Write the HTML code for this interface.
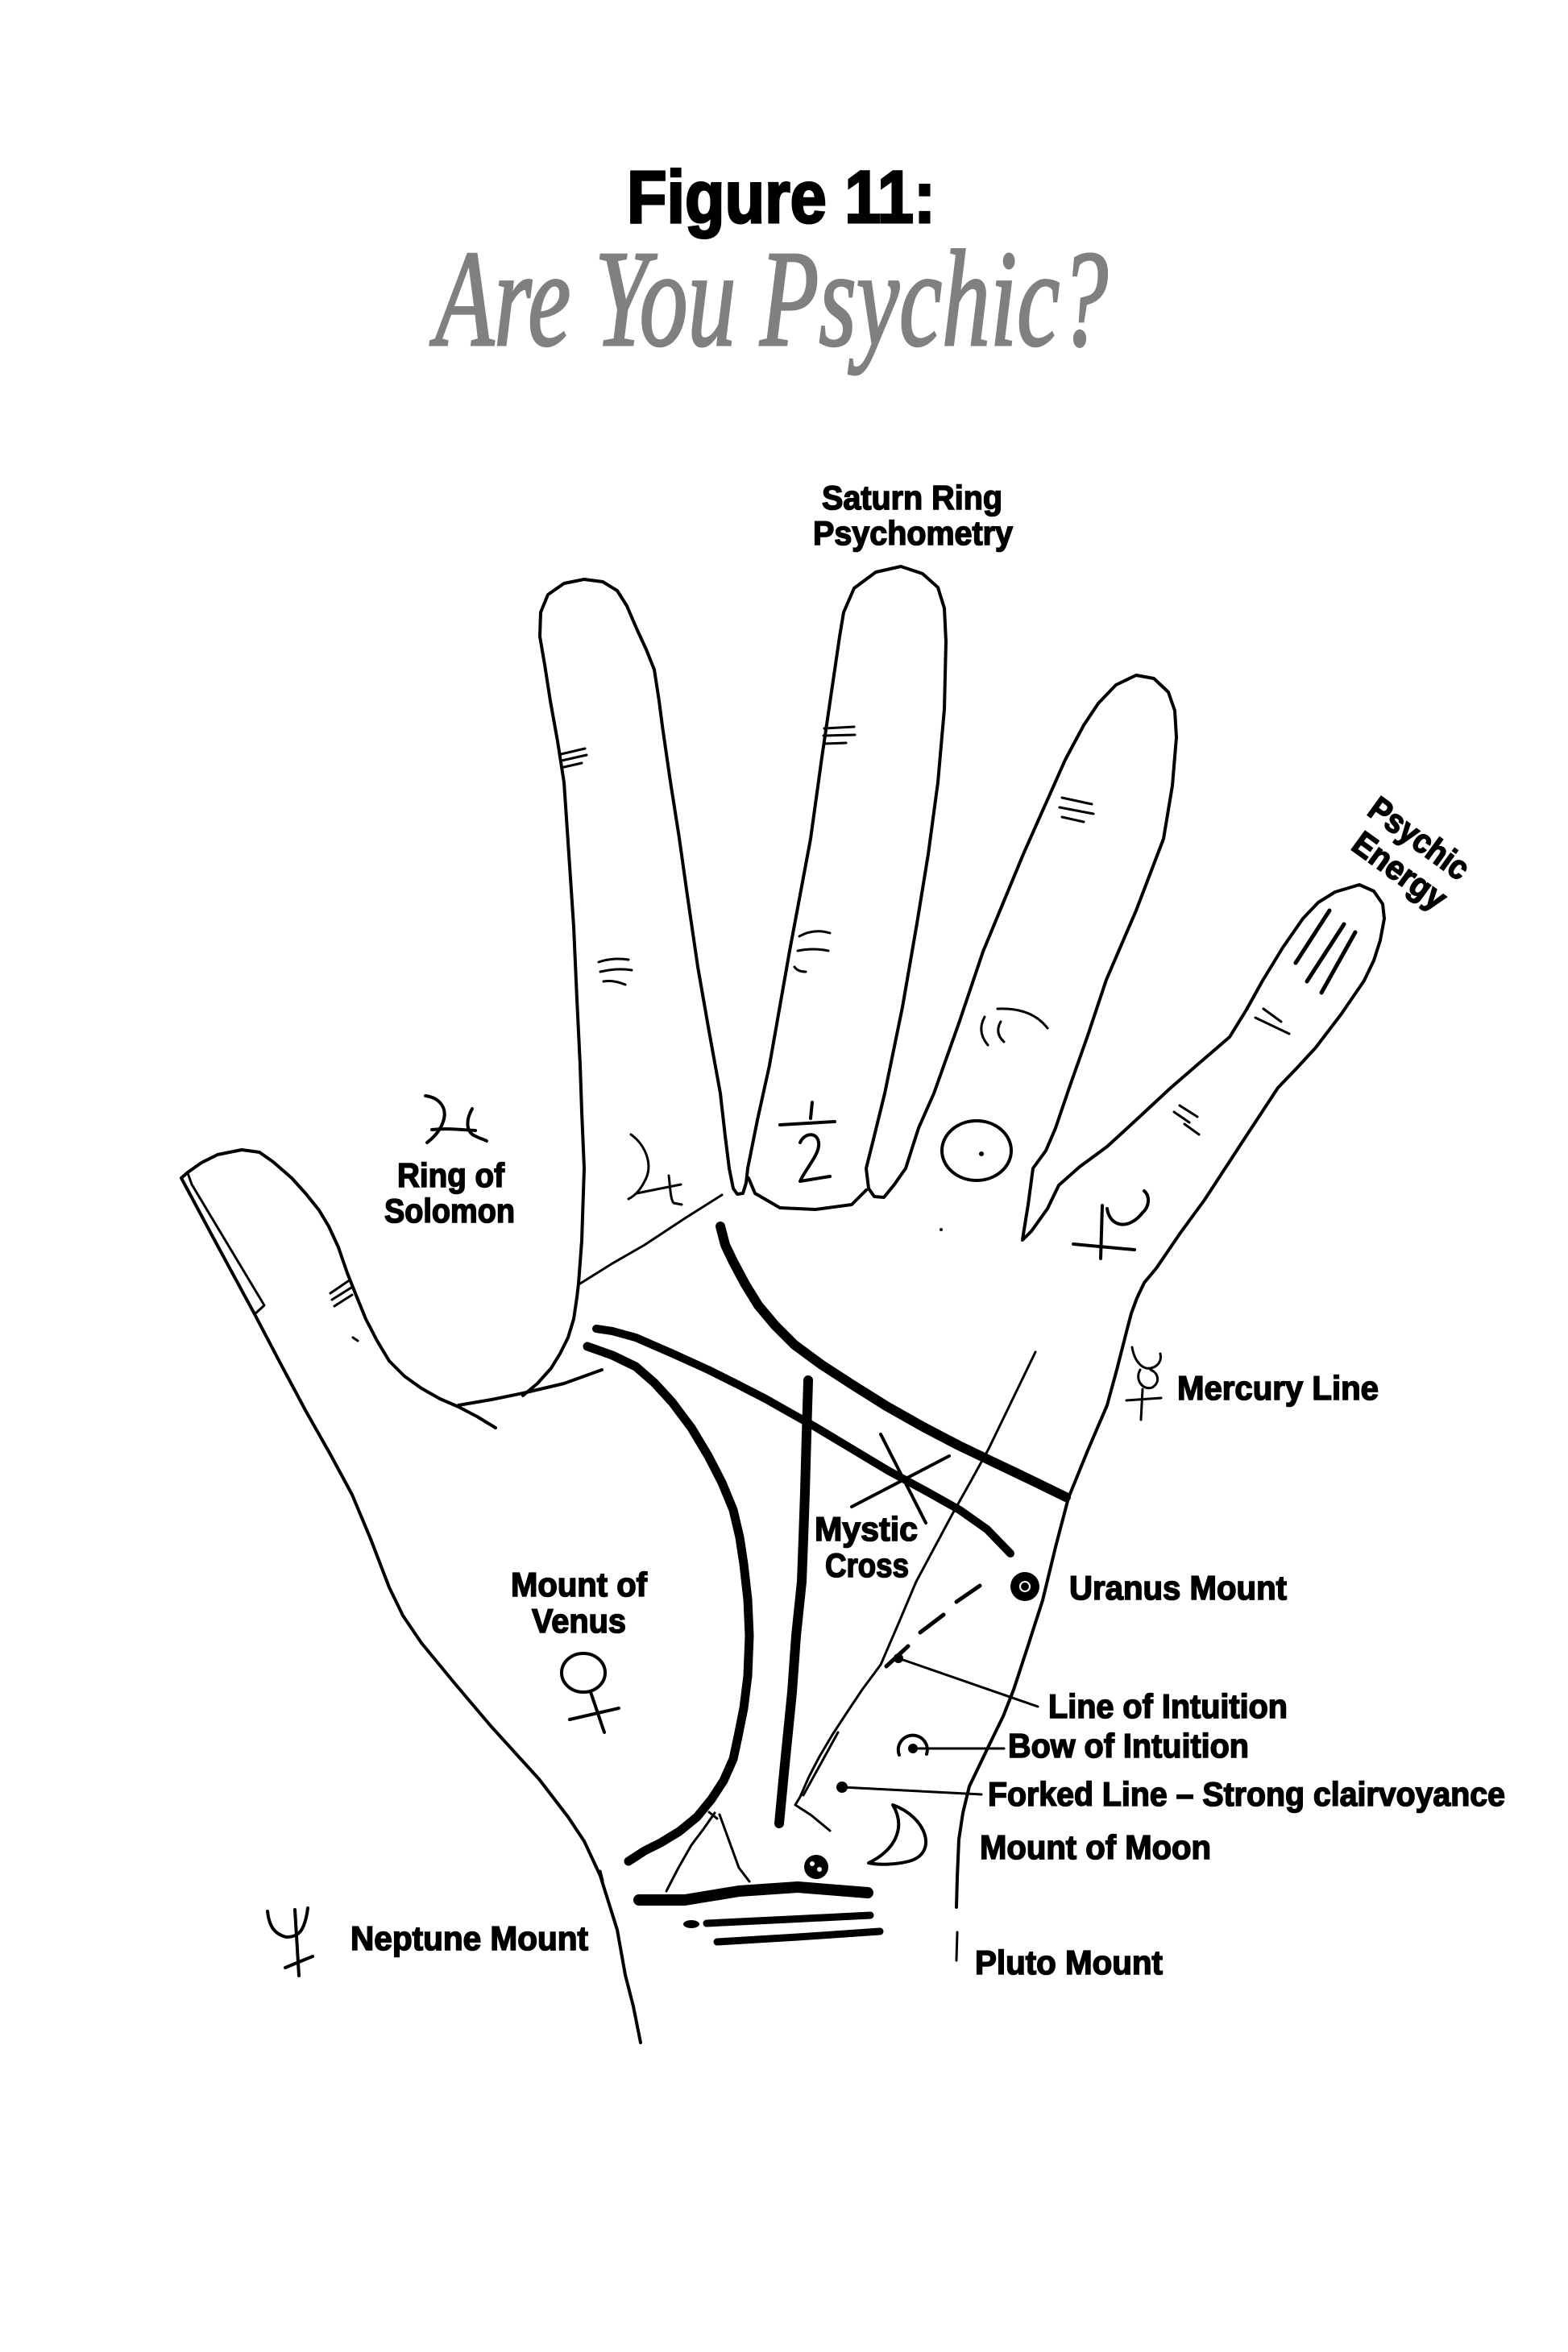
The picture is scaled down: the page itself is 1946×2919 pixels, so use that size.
<!DOCTYPE html>
<html>
<head>
<meta charset="utf-8">
<style>
html,body{margin:0;padding:0;background:#fff;}
svg{display:block;}
text{font-family:"Liberation Sans",Arial,sans-serif;font-weight:bold;fill:#000;}
</style>
</head>
<body>
<svg xmlns="http://www.w3.org/2000/svg" width="1946" height="2919" viewBox="0 0 1946 2919">
<rect width="1946" height="2919" fill="#fff"/>

<!-- Title -->
<text x="778" y="276" font-size="92" textLength="383" lengthAdjust="spacingAndGlyphs" stroke="#000" stroke-width="3">Figure 11:</text>
<text transform="translate(540,428) scale(1,1.22)" x="0" y="0" font-size="140" textLength="835" lengthAdjust="spacingAndGlyphs" style="font-family:'Liberation Serif','DejaVu Serif',serif;font-style:italic;font-weight:normal;fill:#808080;stroke:#808080;stroke-width:2.5">Are You Psychic?</text>

<g fill="none" stroke="#000" stroke-linecap="round" stroke-linejoin="round">
<!-- Thumb + left wrist edge -->
<polyline stroke-width="4" points="795,2535 786,2490 776,2451 766,2395 745,2328 725,2285 705,2255 669,2208 609,2142 565,2090 523,2039 500,2005 483,1970 460,1910 437,1855 410,1805 380,1752 348,1692 316,1631 270,1546 225,1462 233,1455 250,1443 270,1433 300,1427 322,1430 339,1442 362,1462 380,1482 396,1502 408,1522 420,1548 431,1580 443,1610 454,1637 468,1664 483,1689 502,1708 523,1723 546,1736 569,1746 592,1758 615,1772"/>
<!-- nail -->
<polyline stroke-width="3" points="233,1456 238,1470 328,1620 316,1631"/>
<!-- web line -->
<polyline stroke-width="4" points="569,1744 610,1737 649,1729 700,1717 747,1700"/>

<!-- Fingers + right edge -->
<polyline stroke-width="4" points="649,1732 667,1717 684,1698 695,1680 705,1660 712,1637 716,1610 718,1593 722,1540 725,1450 722,1380 720,1322 716,1240 712,1150 706,1060 700,971 692,920 683,870 676,825 670,790 671,760 680,738 700,724 725,719 748,722 766,733 778,752 790,780 802,806 812,831 818,870 822,901 832,970 843,1040 853,1111 866,1200 880,1280 894,1357 900,1410 905,1450 910,1475 915,1482 922,1481 926,1468 928,1450 940,1390 955,1322 980,1180 1006,1041 1020,940 1036,831 1042,790 1047,760 1060,730 1087,710 1118,703 1145,712 1164,729 1172,755 1174,796 1172,880 1164,971 1152,1060 1138,1146 1120,1250 1098,1357 1085,1410 1075,1450 1078,1475 1085,1485 1097,1486 1110,1470 1124,1450 1140,1400 1159,1357 1190,1270 1220,1181 1270,1060 1322,943 1345,900 1363,873 1385,850 1410,838 1432,842 1450,859 1458,882 1460,915 1455,975 1444,1041 1410,1130 1373,1216 1350,1285 1327,1350 1310,1400 1298,1428 1282,1450 1276,1495 1270,1532 1269,1539 1280,1528 1300,1500 1314,1471 1340,1448 1374,1423 1410,1390 1453,1350 1490,1318 1526,1287 1547,1253 1567,1217 1592,1176 1617,1140 1636,1120 1657,1107 1687,1098 1705,1106 1716,1122 1718,1140 1713,1167 1705,1192 1693,1217 1665,1258 1633,1300 1610,1325 1586,1350 1540,1420 1495,1489 1465,1530 1435,1574 1420,1592 1411,1611 1404,1630 1398,1653 1386,1700 1374,1744 1350,1800 1326,1859 1310,1920 1294,1986 1276,2042 1258,2097 1245,2130 1227,2167 1215,2192 1203,2217 1195,2250 1190,2283 1188,2330 1187,2367"/>
<polyline stroke-width="3" points="1188,2398 1187,2433"/>
<!-- middle finger base -->
<polyline stroke-width="4" points="929,1462 937,1481 968,1499 1012,1501 1057,1495 1075,1477"/>
<!-- index base thin line -->
<polyline stroke-width="3" points="720,1593 760,1568 800,1545 850,1512 896,1483"/>

<!-- Thick palm lines -->
<polyline stroke-width="12" points="894,1522 900,1545 910,1566 925,1594 941,1620 962,1645 986,1669 1020,1694 1057,1718 1100,1745 1146,1771 1190,1794 1236,1816 1280,1837 1323,1858"/>
<polyline stroke-width="10" points="740,1649 760,1652 789,1660 835,1680 879,1700 915,1718 950,1736 980,1753 1012,1771 1057,1798 1102,1825 1150,1851 1191,1874 1225,1898 1254,1928"/>
<polyline stroke-width="11" points="729,1671 760,1682 789,1696 812,1716 834,1740 858,1772 879,1807 896,1840 910,1874 918,1908 923,1941 928,1985 930,2030 928,2080 923,2120 916,2155 910,2183 898,2210 883,2233 865,2255 843,2273 820,2287 800,2297 780,2310"/>
<polyline stroke-width="12" points="1003,1713 1001,1780 999,1852 997,1910 995,1963 988,2030 983,2100 978,2150 973,2200 967,2263"/>

<!-- thin diagonal line + fork -->
<polyline stroke-width="3" points="1285,1678 1256,1738 1227,1798 1205,1838 1182,1879 1160,1920 1137,1963 1115,2015 1093,2066 1070,2097 1050,2127 1033,2153 1017,2180 1004,2205 993,2230 987,2240 1007,2253 1030,2272"/>
<polyline stroke-width="3" points="997,2228 1018,2190 1040,2150"/>

<!-- Line of intuition dashes -->
<line stroke-width="5" x1="1216" y1="1968" x2="1187" y2="1988"/>
<line stroke-width="5" x1="1171" y1="2004" x2="1142" y2="2026"/>
<line stroke-width="5" x1="1127" y1="2043" x2="1100" y2="2068"/>
<line stroke-width="3" x1="1115" y1="2058" x2="1288" y2="2118"/>

<!-- Mystic cross -->
<line stroke-width="4" x1="1093" y1="1780" x2="1149" y2="1890"/>
<line stroke-width="4" x1="1057" y1="1870" x2="1178" y2="1807"/>

<!-- Bow of intuition -->
<path stroke-width="4" d="M1116,2178 A18,18 0 1 1 1150,2177"/>
<line stroke-width="3" x1="1140" y1="2170" x2="1246" y2="2170"/>
<!-- Forked line leader -->
<line stroke-width="3" x1="1045" y1="2218" x2="1218" y2="2227"/>

<!-- Moon crescent -->
<path stroke-width="4" d="M1108,2240 C1150,2255 1165,2300 1128,2310 C1112,2314 1092,2315 1078,2312 C1108,2298 1126,2270 1108,2240 Z"/>

<!-- Triangle near wrist -->
<polyline stroke-width="3" points="887,2250 873,2270 858,2290 842,2318 827,2347"/>
<polyline stroke-width="3" points="893,2252 905,2285 917,2318 930,2335"/>
<line stroke-width="3" x1="880" y1="2249" x2="890" y2="2257"/>

<!-- Bracelets -->
<polyline stroke-width="14" points="793,2358 850,2358 917,2347 990,2342 1077,2349"/>
<polyline stroke-width="9" points="877,2387 980,2382 1080,2377"/>
<polyline stroke-width="9" points="890,2410 990,2404 1092,2397"/>
<line stroke-width="3" x1="745" y1="2322" x2="748" y2="2334"/>

<!-- Finger creases -->
<g stroke-width="3">
<line x1="696" y1="936" x2="726" y2="929"/><line x1="697" y1="944" x2="728" y2="937"/><line x1="700" y1="952" x2="722" y2="947"/>
<path d="M743,1194 Q760,1188 780,1191"/><path d="M745,1206 Q765,1201 784,1204"/><path d="M749,1218 Q762,1216 776,1222"/>
<line x1="1023" y1="904" x2="1060" y2="902"/><line x1="1022" y1="913" x2="1061" y2="912"/><line x1="1023" y1="923" x2="1050" y2="922"/>
<path d="M992,1162 Q1010,1152 1030,1158"/><path d="M990,1180 Q1010,1176 1028,1180"/><path d="M986,1200 Q990,1206 1000,1206"/>
<line x1="1318" y1="990" x2="1355" y2="998"/><line x1="1315" y1="1002" x2="1357" y2="1010"/><line x1="1318" y1="1014" x2="1345" y2="1020"/>
<path d="M1238,1252 Q1280,1250 1300,1276"/><path d="M1222,1262 Q1212,1280 1226,1297"/><path d="M1242,1268 Q1234,1282 1246,1293"/>
<line x1="1457" y1="1380" x2="1476" y2="1393"/><line x1="1464" y1="1372" x2="1486" y2="1386"/><line x1="1470" y1="1395" x2="1488" y2="1408"/>
<line x1="1568" y1="1252" x2="1590" y2="1268"/><line x1="1558" y1="1263" x2="1600" y2="1283"/>
<line x1="410" y1="1605" x2="432" y2="1590"/><line x1="412" y1="1613" x2="436" y2="1598"/><line x1="415" y1="1621" x2="437" y2="1607"/>
<line x1="438" y1="1660" x2="444" y2="1664"/>
</g>
<g stroke-width="5">
<line x1="1650" y1="1130" x2="1608" y2="1195"/><line x1="1668" y1="1147" x2="1622" y2="1218"/><line x1="1682" y1="1157" x2="1640" y2="1232"/>
</g>

<!-- Symbols -->
<g stroke-width="4">
<path d="M528,1360 C545,1362 556,1375 550,1392 C546,1404 538,1412 530,1418"/>
<path d="M536,1402 C555,1400 570,1402 590,1403"/>
<path d="M586,1376 C578,1390 578,1405 590,1410 C596,1413 600,1414 604,1416"/>
<path d="M1008,1368 L1006,1388"/>
<path d="M968,1396 L1036,1392"/>
<path d="M993,1418 C998,1406 1014,1404 1016,1418 C1018,1432 1000,1450 993,1466 L1030,1460"/>
<ellipse cx="1212" cy="1428" rx="43" ry="37"/>
<path d="M1332,1544 L1408,1551"/>
<path d="M1368,1496 L1366,1562"/>
<path d="M1374,1500 C1377,1522 1400,1528 1418,1505"/>
<path d="M1420,1478 C1428,1485 1426,1498 1418,1505"/>
<ellipse cx="724" cy="2076" rx="27" ry="24"/>
<path d="M733,2100 L750,2150"/>
<path d="M707,2134 L768,2120"/>
<path d="M332,2372 C334,2390 340,2400 355,2404 C370,2404 378,2398 382,2368"/>
<path d="M366,2370 L371,2452"/>
<path d="M354,2442 L388,2428"/>
</g>
<g stroke-width="3">
<path d="M783,1408 C800,1420 812,1445 800,1466 C795,1476 788,1484 780,1488"/>
<path d="M790,1481 L845,1470"/>
<path d="M830,1459 C832,1475 832,1488 836,1493 L846,1495"/>
<path d="M1405,1672 C1408,1690 1418,1700 1428,1698 C1438,1696 1442,1688 1440,1680"/>
<path d="M1415,1700 C1408,1712 1418,1726 1430,1722 C1440,1716 1438,1704 1428,1700"/>
<path d="M1398,1738 L1441,1735"/>
<path d="M1418,1724 L1416,1762"/>
</g>
</g>

<!-- filled dots -->
<circle cx="1218" cy="1432" r="3" fill="#000"/>
<circle cx="1168" cy="1526" r="2" fill="#000"/>
<circle cx="1272" cy="1969" r="18" fill="#000"/>
<circle cx="1272" cy="1969" r="6" fill="none" stroke="#fff" stroke-width="2"/>
<circle cx="1115" cy="2058" r="6" fill="#000"/>
<circle cx="1133" cy="2170" r="6" fill="#000"/>
<circle cx="1045" cy="2218" r="7" fill="#000"/>
<ellipse cx="858" cy="2388" rx="10" ry="5" fill="#000"/>
<!-- Pluto blob -->
<circle cx="1013" cy="2317" r="15" fill="#000"/>
<circle cx="1008" cy="2313" r="3" fill="#fff"/>
<circle cx="1017" cy="2320" r="3" fill="#fff"/>

<!-- Labels -->
<g font-size="42" stroke="#000" stroke-width="1.6">
<text x="1020" y="632" textLength="224" lengthAdjust="spacingAndGlyphs">Saturn Ring</text>
<text x="1009" y="676" textLength="248" lengthAdjust="spacingAndGlyphs">Psychometry</text>
<text x="493" y="1473" textLength="133" lengthAdjust="spacingAndGlyphs">Ring of</text>
<text x="477" y="1517" textLength="162" lengthAdjust="spacingAndGlyphs">Solomon</text>
<text x="634" y="1981" textLength="169" lengthAdjust="spacingAndGlyphs">Mount of</text>
<text x="660" y="2026" textLength="117" lengthAdjust="spacingAndGlyphs">Venus</text>
<text x="1011" y="1912" textLength="128" lengthAdjust="spacingAndGlyphs">Mystic</text>
<text x="1024" y="1957" textLength="104" lengthAdjust="spacingAndGlyphs">Cross</text>
<text x="1461" y="1737" textLength="250" lengthAdjust="spacingAndGlyphs">Mercury Line</text>
<text x="1327" y="1985" textLength="270" lengthAdjust="spacingAndGlyphs">Uranus Mount</text>
<text x="1301" y="2132" textLength="297" lengthAdjust="spacingAndGlyphs">Line of Intuition</text>
<text x="1251" y="2181" textLength="299" lengthAdjust="spacingAndGlyphs">Bow of Intuition</text>
<text x="1226" y="2241" textLength="642" lengthAdjust="spacingAndGlyphs">Forked Line – Strong clairvoyance</text>
<text x="1216" y="2307" textLength="287" lengthAdjust="spacingAndGlyphs">Mount of Moon</text>
<text x="1210" y="2450" textLength="233" lengthAdjust="spacingAndGlyphs">Pluto Mount</text>
<text x="435" y="2420" textLength="295" lengthAdjust="spacingAndGlyphs">Neptune Mount</text>
<text transform="translate(1695,1010) rotate(36)" x="0" y="0" textLength="143" lengthAdjust="spacingAndGlyphs">Psychic</text>
<text transform="translate(1675,1053) rotate(36)" x="0" y="0" textLength="133" lengthAdjust="spacingAndGlyphs">Energy</text>
</g>
</svg>
</body>
</html>
